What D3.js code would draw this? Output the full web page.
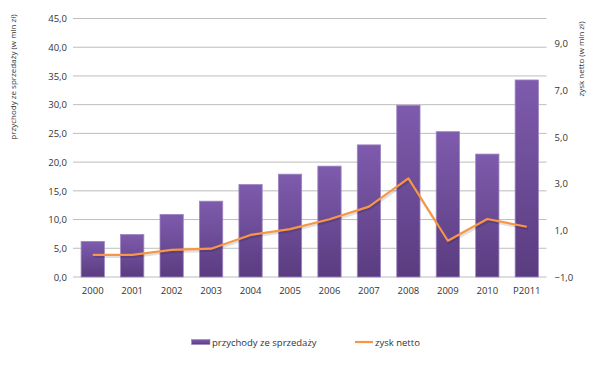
<!DOCTYPE html>
<html>
<head>
<meta charset="utf-8">
<script src="https://cdn.jsdelivr.net/npm/d3@7"></script>
<style>
  body { margin: 0; background: #fff; }
  text { font-family: "Open Sans", "DejaVu Sans", sans-serif; fill: #333; }
</style>
</head>
<body>
<div id="chart"></div>
<script>
var years = ["2000", "2001", "2002", "2003", "2004", "2005", "2006", "2007", "2008", "2009", "2010", "P2011"];
var revenue = [6.2, 7.4, 10.9, 13.2, 16.1, 17.9, 19.3, 23.0, 29.9, 25.3, 21.4, 34.3];
var profit = [-0.05, -0.05, 0.16, 0.21, 0.8, 1.05, 1.47, 2.01, 3.22, 0.55, 1.48, 1.15];
var leftTicks = [0, 5, 10, 15, 20, 25, 30, 35, 40, 45];
var rightTicks = [-1, 1, 3, 5, 7, 9];

var width = 600, height = 392;
var plotLeft = 73, plotRight = 546.5, plotTop = 18.5, plotBottom = 277;

var svg = d3.select("#chart").append("svg").attr("width", width).attr("height", height);

var x = d3.scaleBand().domain(years).range([plotLeft, plotRight]).paddingInner(0.41).paddingOuter(0.205);
var yLeft = d3.scaleLinear().domain([0, 45]).range([plotBottom, plotTop]);
var yRight = d3.scaleLinear().domain([-1, 10.06]).range([plotBottom, plotTop]);

var fmt = function(v) { return d3.format(".1f")(v).replace(".", ","); };

// gradient for bars
var grad = svg.append("defs").append("linearGradient").attr("id", "barGrad")
    .attr("x1", 0).attr("y1", 0).attr("x2", 0).attr("y2", 1);
grad.append("stop").attr("offset", "0%").attr("stop-color", "#7e5bad");
grad.append("stop").attr("offset", "100%").attr("stop-color", "#5a3c80");

// gridlines
svg.append("g").selectAll("line").data(leftTicks).enter().append("line")
    .attr("x1", plotLeft).attr("x2", plotRight)
    .attr("y1", function(d) { return yLeft(d); }).attr("y2", function(d) { return yLeft(d); })
    .attr("stroke", "#bdbdbd").attr("stroke-width", 1);

// left axis
var leftAxis = svg.append("g").attr("transform", "translate(" + (plotLeft - 6) + ",0)")
    .call(d3.axisLeft(yLeft).tickValues(leftTicks).tickFormat(fmt).tickSize(0));
leftAxis.select(".domain").remove();
leftAxis.selectAll("text").style("font-size", "9.5px").attr("dy", "0.35em").attr("x", 0);

// right axis
var rightAxis = svg.append("g").attr("transform", "translate(" + (plotRight + 8) + ",0)")
    .call(d3.axisRight(yRight).tickValues(rightTicks).tickFormat(fmt).tickSize(0));
rightAxis.select(".domain").remove();
rightAxis.selectAll("text").style("font-size", "9.5px").attr("dy", "0.35em").attr("x", 0);

// x axis
var xAxis = svg.append("g").attr("transform", "translate(0," + plotBottom + ")")
    .call(d3.axisBottom(x).tickSize(0));
xAxis.select(".domain").remove();
xAxis.selectAll("text").style("font-size", "9.5px").attr("dy", "0.71em").attr("y", 10);

// bars
svg.append("g").selectAll("rect").data(revenue).enter().append("rect")
    .attr("x", function(d, i) { return x(years[i]); })
    .attr("y", function(d) { return yLeft(d); })
    .attr("width", x.bandwidth())
    .attr("height", function(d) { return yLeft(0) - yLeft(d); })
    .attr("fill", "url(#barGrad)")
    .attr("stroke", "#9d86c0").attr("stroke-width", 0.8);

// line with soft shadow
var line = d3.line()
    .x(function(d, i) { return x(years[i]) + x.bandwidth() / 2; })
    .y(function(d) { return yRight(d); });

svg.append("path").datum(profit).attr("d", line)
    .attr("fill", "none").attr("stroke", "#000").attr("stroke-opacity", 0.12)
    .attr("stroke-width", 2.5).attr("transform", "translate(1,2)");
svg.append("path").datum(profit).attr("d", line)
    .attr("fill", "none").attr("stroke", "#f79646").attr("stroke-width", 2.2)
    .attr("stroke-linejoin", "round");

// axis titles
svg.append("text").attr("transform", "translate(16,77) rotate(-90)")
    .attr("text-anchor", "middle").style("font-size", "8px")
    .text("przychody ze sprzedaży (w mln zł)");
svg.append("text").attr("transform", "translate(584,59) rotate(-90)")
    .attr("text-anchor", "middle").style("font-size", "8px")
    .text("zysk netto (w mln zł)");

// legend
var legend = svg.append("g");
legend.append("rect").attr("x", 191.5).attr("y", 339.5).attr("width", 18.5).attr("height", 5)
    .attr("fill", "url(#barGrad)").attr("stroke", "#9d86c0").attr("stroke-width", 0.6);
legend.append("text").attr("x", 212).attr("y", 346).style("font-size", "9.5px").text("przychody ze sprzedaży");
legend.append("line").attr("x1", 355).attr("x2", 373).attr("y1", 342).attr("y2", 342)
    .attr("stroke", "#f79646").attr("stroke-width", 2.2);
legend.append("text").attr("x", 375).attr("y", 346).style("font-size", "9.5px").text("zysk netto");
</script>
</body>
</html>
